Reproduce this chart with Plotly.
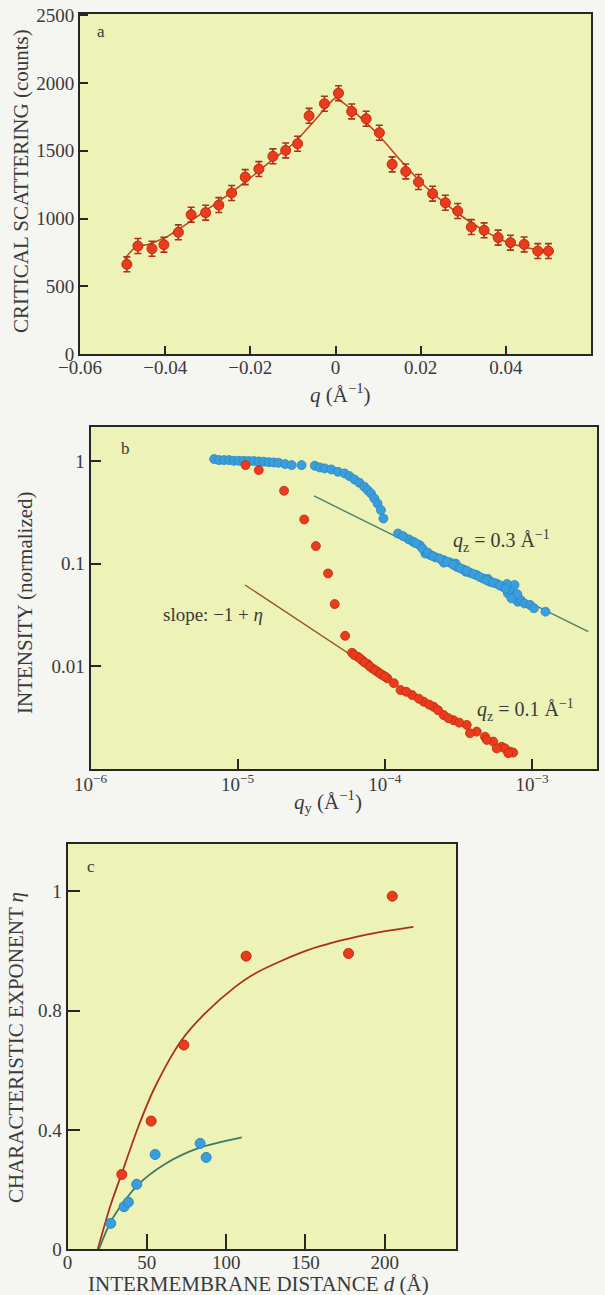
import plotly.graph_objects as go

# ---------------- Panel a: critical scattering ----------------
a_q = [-0.0490, -0.0464, -0.0431, -0.0403, -0.0369, -0.0339, -0.0305, -0.0274,
       -0.0244, -0.0212, -0.0180, -0.0147, -0.0117, -0.0089, -0.0062, -0.0026,
       0.0007, 0.0038, 0.0072, 0.0103, 0.0133, 0.0165, 0.0195, 0.0228, 0.0258,
       0.0287, 0.0319, 0.0349, 0.0382, 0.0411, 0.0443, 0.0475, 0.0500]
a_counts = [663, 798, 778, 808, 899, 1029, 1044, 1100, 1189, 1306, 1365, 1459,
            1503, 1552, 1758, 1847, 1925, 1790, 1736, 1633, 1400, 1348, 1270,
            1184, 1117, 1056, 938, 914, 860, 823, 810, 761, 761]
a_err = [55] * len(a_q)
a_fit_q = [-0.0495, -0.047, -0.044, -0.04, -0.035, -0.03, -0.025, -0.02, -0.015,
           -0.01, -0.005, -0.002, 0.0, 0.002, 0.005, 0.01, 0.015, 0.02, 0.025,
           0.03, 0.035, 0.04, 0.045, 0.0505]
a_fit_c = [705, 790, 810, 860, 960, 1070, 1180, 1300, 1430, 1550, 1720, 1830,
           1890, 1850, 1770, 1620, 1440, 1270, 1130, 1010, 910, 830, 785, 750]

# ---------------- Panel b: intensity vs q_y ----------------
b_blue_x = [6.92e-6, 7.46e-6, 8.07e-6, 8.73e-6, 9.42e-6, 1.019e-5, 1.102e-5, 1.189e-5,
            1.285e-5, 1.390e-5, 1.500e-5, 1.622e-5, 1.754e-5, 1.892e-5, 2.099e-5,
            2.328e-5, 2.716e-5, 3.342e-5, 3.614e-5, 3.899e-5, 4.325e-5, 4.797e-5,
            5.321e-5, 5.741e-5, 6.209e-5, 6.714e-5, 7.244e-5, 7.638e-5, 8.035e-5,
            8.472e-5, 8.913e-5, 9.397e-5, 9.772e-5,
            1.227e-4, 1.455e-4, 1.556e-4, 1.726e-4, 1.884e-4, 2.037e-4, 2.203e-4,
            2.506e-4, 2.780e-4, 3.076e-4, 3.412e-4, 3.784e-4, 4.198e-4, 4.656e-4,
            5.164e-4, 5.728e-4, 6.339e-4, 6.855e-4, 7.413e-4, 7.998e-4, 8.356e-4,
            8.872e-4, 9.705e-4, 1.030e-3, 1.233e-3,
            7.08e-4, 7.59e-4, 7.94e-4, 7.24e-4, 6.76e-4,
            2.512e-4, 3.548e-4, 5.012e-4, 3.02e-4,
            1.33e-4, 1.62e-4, 1.80e-4, 1.95e-4, 2.12e-4, 2.35e-4, 2.65e-4, 2.92e-4,
            3.25e-4, 3.60e-4, 4.00e-4, 4.40e-4, 4.90e-4, 5.45e-4, 6.05e-4, 6.60e-4]
b_blue_y = [1.045, 1.021, 1.021, 1.021, 1.005, 1.005, 1.005, 0.998,
            0.998, 0.991, 0.984, 0.975, 0.968, 0.962, 0.933,
            0.912, 0.912, 0.899, 0.865, 0.847, 0.828, 0.785,
            0.757, 0.713, 0.661, 0.614, 0.561, 0.520, 0.483,
            0.432, 0.385, 0.332, 0.275,
            0.196, 0.172, 0.163, 0.151, 0.125, 0.121, 0.115,
            0.108, 0.102, 0.0929, 0.0875, 0.0813, 0.0771, 0.0714,
            0.0664, 0.0638, 0.0593, 0.0511, 0.0473, 0.0424, 0.0441,
            0.0408, 0.0394, 0.0366, 0.0339,
            0.0562, 0.0617, 0.0501, 0.0457, 0.0631,
            0.102, 0.0832, 0.0708, 0.1000,
            0.185, 0.158, 0.140, 0.128, 0.118, 0.112, 0.104, 0.097,
            0.090, 0.085, 0.079, 0.074, 0.069, 0.065, 0.061, 0.057]
b_red_x = [1.130e-5, 1.390e-5, 2.065e-5, 2.831e-5, 3.396e-5, 4.111e-5, 4.560e-5,
           5.370e-5, 5.984e-5, 6.546e-5, 7.063e-5, 7.638e-5, 8.241e-5, 8.913e-5,
           9.638e-5, 1.040e-4, 1.279e-4, 1.535e-4, 1.837e-4, 2.143e-4, 2.506e-4,
           2.924e-4, 3.597e-4, 4.207e-4, 4.786e-4, 5.445e-4, 6.209e-4, 7.079e-4,
           7.447e-4, 3.784e-4, 4.920e-4, 6.546e-4, 5.754e-4, 6.887e-4,
           6.2e-5, 6.8e-5, 7.3e-5, 7.9e-5, 8.6e-5, 9.3e-5, 1.0e-4,
           1.15e-4, 1.40e-4, 1.70e-4, 2.00e-4, 2.30e-4, 2.70e-4, 3.20e-4]
b_red_y = [0.912, 0.815, 0.513, 0.269, 0.148, 0.0800, 0.0402,
           0.0197, 0.01346, 0.01230, 0.01125, 0.01045, 0.00946, 0.00879,
           0.00815, 0.00757, 0.00582, 0.00520, 0.00448, 0.00400, 0.00332,
           0.00296, 0.00266, 0.00229, 0.00204, 0.00183, 0.00163, 0.00146,
           0.00143, 0.00221, 0.00190, 0.00157, 0.00157, 0.00141,
           0.0128, 0.0118, 0.0108, 0.0099, 0.0091, 0.0084, 0.0079,
           0.0068, 0.0056, 0.0048, 0.0042, 0.0037, 0.0031, 0.0028]
b_blue_line_x = [3.30e-5, 2.41e-3]
b_blue_line_y = [0.456, 0.0216]
b_red_line_x = [1.122e-5, 2.0e-4]
b_red_line_y = [0.0617, 0.0040]
b_xticks = [1e-6, 1e-5, 1e-4, 1e-3]
b_xticktext = ["10<sup>−6</sup>", "10<sup>−5</sup>", "10<sup>−4</sup>", "10<sup>−3</sup>"]
b_yticks = [1, 0.1, 0.01]
b_yticktext = ["1", "0.1", "0.01"]

# ---------------- Panel c: characteristic exponent ----------------
c_red_d = [34.2, 52.7, 73.3, 112.6, 177.2, 204.8]
c_red_eta = [0.251, 0.430, 0.685, 0.983, 0.992, 1.184]
c_blue_d = [27.2, 35.6, 38.3, 43.6, 55.2, 83.6, 87.4]
c_blue_eta = [0.087, 0.143, 0.158, 0.218, 0.318, 0.355, 0.308]
c_red_fit_d = [19.0, 26.8, 34.2, 44.6, 55.2, 72.0, 86.7, 105.7, 118.3, 151.5, 187.8, 218.1]
c_red_fit_eta = [0.0, 0.143, 0.255, 0.411, 0.545, 0.702, 0.791, 0.880, 0.925, 1.003, 1.054, 1.081]
c_blue_fit_d = [19.8, 27.8, 43.6, 61.5, 82.5, 109.9]
c_blue_fit_eta = [0.0, 0.098, 0.212, 0.286, 0.339, 0.375]
c_yticks = [0, 0.4, 0.8, 1.2]
c_yticktext = ["0", "0.4", "0.8", "1"]

# ---------------- styling ----------------
W, H = 605, 1295
FONT = "Liberation Serif"
TXT = "#3a3a3a"
RED = "#ea3b1c"
RED_EDGE = "#c22a12"
BLUE = "#3a9edc"
BLUE_EDGE = "#2b86c4"
FRAME = "#262626"
PLOT_BG = "#edf2b6"
PAPER_BG = "#f5f5f1"


def px(x):
    return x / W


def py(y):
    return 1 - y / H


fig = go.Figure()

# panel a
fig.add_trace(go.Scatter(x=a_fit_q, y=a_fit_c, mode="lines", xaxis="x", yaxis="y",
                         line=dict(color="#c2461e", width=1.6, shape="spline", smoothing=0.4),
                         hoverinfo="skip", showlegend=False))
fig.add_trace(go.Scatter(x=a_q, y=a_counts, mode="markers", xaxis="x", yaxis="y",
                         marker=dict(color=RED, size=10, line=dict(color=RED_EDGE, width=1)),
                         error_y=dict(type="data", array=a_err, color="#a8321c",
                                      thickness=1.6, width=3.5),
                         showlegend=False))

# panel b
fig.add_trace(go.Scatter(x=b_blue_line_x, y=b_blue_line_y, mode="lines", xaxis="x2", yaxis="y2",
                         line=dict(color="#4f7f6a", width=1.4), showlegend=False))
fig.add_trace(go.Scatter(x=b_red_line_x, y=b_red_line_y, mode="lines", xaxis="x2", yaxis="y2",
                         line=dict(color="#8f5a1e", width=1.4), showlegend=False))
fig.add_trace(go.Scatter(x=b_blue_x, y=b_blue_y, mode="markers", xaxis="x2", yaxis="y2",
                         marker=dict(color=BLUE, size=9, line=dict(color=BLUE_EDGE, width=0.8)),
                         showlegend=False))
fig.add_trace(go.Scatter(x=b_red_x, y=b_red_y, mode="markers", xaxis="x2", yaxis="y2",
                         marker=dict(color=RED, size=9, line=dict(color=RED_EDGE, width=0.8)),
                         showlegend=False))

# panel c
fig.add_trace(go.Scatter(x=c_red_fit_d, y=c_red_fit_eta, mode="lines", xaxis="x3", yaxis="y3",
                         line=dict(color="#a8321f", width=1.8, shape="spline", smoothing=0.8),
                         showlegend=False))
fig.add_trace(go.Scatter(x=c_blue_fit_d, y=c_blue_fit_eta, mode="lines", xaxis="x3", yaxis="y3",
                         line=dict(color="#3f7a66", width=1.8, shape="spline", smoothing=0.8),
                         showlegend=False))
fig.add_trace(go.Scatter(x=c_red_d, y=c_red_eta, mode="markers", xaxis="x3", yaxis="y3",
                         marker=dict(color=RED, size=10, line=dict(color=RED_EDGE, width=1)),
                         showlegend=False))
fig.add_trace(go.Scatter(x=c_blue_d, y=c_blue_eta, mode="markers", xaxis="x3", yaxis="y3",
                         marker=dict(color=BLUE, size=10, line=dict(color=BLUE_EDGE, width=1)),
                         showlegend=False))

tickfont = dict(family=FONT, size=19, color=TXT)
common = dict(showline=True, mirror=True, linecolor=FRAME, linewidth=2,
              ticks="inside", tickcolor=FRAME, tickwidth=1.6, automargin=False,
              showgrid=False, zeroline=False, tickfont=tickfont, fixedrange=True)

fig.update_layout(
    width=W, height=H, margin=dict(l=0, r=0, t=0, b=0, pad=0, autoexpand=False),
    paper_bgcolor=PAPER_BG, plot_bgcolor=PLOT_BG,
    font=dict(family=FONT, color=TXT),
    xaxis=dict(domain=[px(80), px(591)], range=[-0.06, 0.06], anchor="y",
               tickvals=[-0.06, -0.04, -0.02, 0, 0.02, 0.04, 0.06],
               ticktext=["−0.06", "−0.04", "−0.02", "0", "0.02", "0.04", "0.06"],
               ticklen=8, ticklabelstandoff=-5, **common),
    yaxis=dict(domain=[py(354.3), py(13.5)], range=[0, 2512], anchor="x",
               tickvals=[0, 500, 1000, 1500, 2000, 2500], ticklen=8, **common),
    xaxis2=dict(domain=[px(90.5), px(597)], type="log", range=[-6.0, -2.559], anchor="y2",
                tickvals=b_xticks, ticktext=b_xticktext, ticklen=10,
                ticklabelstandoff=-3, **common),
    yaxis2=dict(domain=[py(769), py(427.3)], type="log", range=[-3.005, 0.329], anchor="x2",
                tickvals=b_yticks, ticktext=b_yticktext, ticklen=10, **common),
    xaxis3=dict(domain=[px(67.6), px(456)], range=[0, 245], anchor="y3",
                tickvals=[0, 50, 100, 150, 200], ticklen=15, ticklabelstandoff=-5, **common),
    yaxis3=dict(domain=[py(1249.3), py(844)], range=[0, 1.359], anchor="x3",
                tickvals=c_yticks, ticktext=c_yticktext, ticklen=12, **common),
)

ann = []


def add_text(text, x, y, size, angle=0):
    ann.append(dict(text=text, x=px(x), y=py(y), xref="paper", yref="paper",
                    xanchor="center", yanchor="middle", showarrow=False,
                    textangle=angle, font=dict(family=FONT, size=size, color=TXT)))


# axis titles
add_text("CRITICAL SCATTERING (counts)", 21, 181, 21, -90)
add_text("<i>q</i> (Å<sup>−1</sup>)", 340, 394, 21)
add_text("INTENSITY (normalized)", 25, 603, 21, -90)
add_text("<i>q</i><sub>y</sub> (Å<sup>−1</sup>)", 328, 801, 21)
add_text("CHARACTERISTIC EXPONENT <i>η</i>", 16, 1048, 21, -90)
add_text("INTERMEMBRANE DISTANCE <i>d</i> (Å)", 258, 1284, 21)
# panel letters
add_text("a", 101, 31, 17)
add_text("b", 125, 448, 17)
add_text("c", 91, 867, 17)
# panel b labels
add_text("<i>q</i><sub>z</sub> = 0.3 Å<sup>−1</sup>", 501, 541, 20)
add_text("<i>q</i><sub>z</sub> = 0.1 Å<sup>−1</sup>", 525, 710, 20)
add_text("slope: −1 + <i>η</i>", 213, 614, 19)

fig.update_layout(annotations=ann)

fig.write_html(
    "out.html",
    config={"displayModeBar": False, "responsive": False},
    post_script="document.body.style.margin='0px';"
                "document.documentElement.style.overflow='hidden';",
)
